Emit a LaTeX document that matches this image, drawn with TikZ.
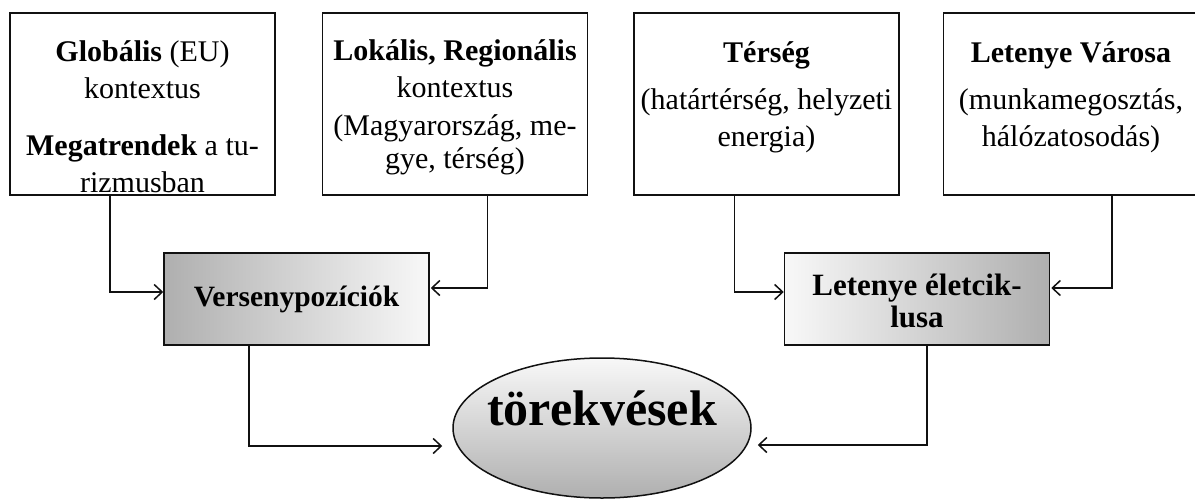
\documentclass[tikz,border=0pt]{standalone}
\usepackage{fontspec}
\setmainfont{Liberation Serif}
\usetikzlibrary{arrows.meta,positioning,calc,shapes.geometric}
\definecolor{Ink}{HTML}{111111}
\definecolor{ShadeDark}{HTML}{AFAFAF}
\definecolor{ShadeLight}{HTML}{F8F8F8}
\tikzset{
  ctxbox/.style={draw=Ink,line width=1.5pt,fill=white,minimum width=265pt,minimum height=182pt,inner sep=0pt},
  ctxtext/.style={align=center,inner sep=0pt,anchor=base,font=\fontsize{30}{37}\selectfont},
  midbox/.style={draw=Ink,line width=1.5pt,minimum width=265pt,minimum height=92pt,inner sep=0pt,align=center,font=\bfseries\fontsize{29.5}{32}\selectfont},
  shadeleft/.style={midbox,shading=axis,left color=ShadeDark,right color=ShadeLight},
  shaderight/.style={midbox,shading=axis,left color=ShadeLight,right color=ShadeDark},
  goal/.style={ellipse,draw=Ink,line width=1.5pt,minimum width=298pt,minimum height=140pt,inner sep=0pt,shading=axis,top color=ShadeLight,bottom color=ShadeDark},
  goaltext/.style={inner sep=0pt,anchor=base,font=\bfseries\fontsize{50}{56}\selectfont},
  arr/.style={-{Straight Barb[length=8pt,width=15pt,line width=1.5pt]},line width=1.6pt,draw=Ink}
}
\begin{document}
\begin{tikzpicture}[x=1pt,y=1pt]
  \useasboundingbox (0,0) rectangle (1195,-499);
  % top row
  \node[ctxbox] (glob) at (142.5,-104) {};
  \node[ctxbox,right=46pt of glob] (lok) {};
  \node[ctxbox,right=45pt of lok] (ters) {};
  \node[ctxbox,minimum width=255pt,right=43pt of ters] (varos) {};
  \node[ctxtext] (globt) at ([yshift=-180pt]glob.north)
    {\textbf{Globális} (EU)\\kontextus\\[20pt]\textbf{Megatrendek} a tu-\\rizmusban};
  \node[ctxtext] (lokt) at ([yshift=-156pt]lok.north)
    {\textbf{Lokális, Regionális}\\kontextus\\[1pt](Magyarország, me-\\[-4pt]gye, térség)};
  \node[ctxtext] (terst) at ([yshift=-134pt]ters.north)
    {\textbf{Térség}\\[10pt](határtérség, helyzeti\\energia)};
  \node[ctxtext] (varost) at ([yshift=-134pt]varos.north)
    {\textbf{Letenye Városa}\\[10pt](munkamegosztás,\\hálózatosodás)};
  % middle row
  \node[shadeleft] (verseny) at (296.5,-299) {Versenypozíciók};
  \node[shaderight,font=\bfseries\fontsize{31}{32}\selectfont] (eletc) at (917,-299) {\rule{0pt}{26pt}Letenye életcik-\\lusa};
  % goal
  \node[goal] (tor) at (602,-428) {};
  \node[goaltext] (tort) at ([yshift=3pt]tor.center) {törekvések};
  % connectors
  \draw[arr] ([xshift=-32.5pt]glob.south) |- ([yshift=7pt]verseny.west);
  \draw[arr] ([xshift=32.5pt]lok.south) |- ([yshift=11pt,xshift=1pt]verseny.east);
  \draw[arr] ([xshift=-32pt]ters.south) |- ([yshift=7pt]eletc.west);
  \draw[arr] ([xshift=41pt]varos.south) |- ([yshift=11pt,xshift=1pt]eletc.east);
  \draw[arr] ([xshift=-47.5pt]verseny.south) |- ([yshift=-18pt,xshift=-10pt]tor.west);
  \draw[arr] ([xshift=10pt]eletc.south) |- ([yshift=-17pt,xshift=6pt]tor.east);
\end{tikzpicture}
\end{document}
